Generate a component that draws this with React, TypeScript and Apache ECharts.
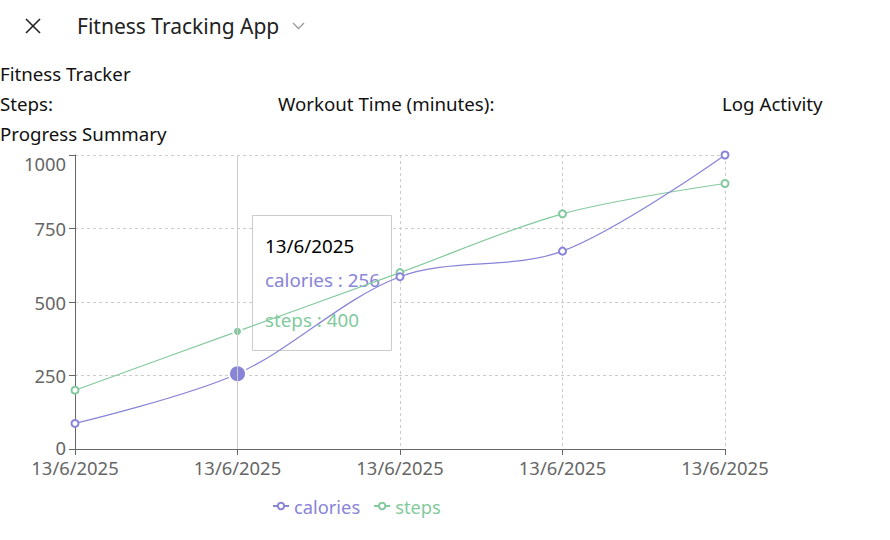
import React, { useEffect, useRef } from "react";
import * as echarts from "echarts";

const categories = ["13/6/2025", "13/6/2025", "13/6/2025", "13/6/2025", "13/6/2025"];
const calories = [87, 256, 586, 673, 1000];
const steps = [200, 400, 600, 800, 903];
const activeIndex = 1;
const yTicks = { min: 0, max: 1000, interval: 250 };

const FONT = '"Noto Sans", "Open Sans", sans-serif';
const C_CAL = "#8884d8";
const C_STEP = "#82ca9d";

export default function App() {
  const ref = useRef<HTMLDivElement>(null);
  useEffect(() => {
    if (!ref.current) return;
    const chart = echarts.init(ref.current, undefined, { renderer: "svg" });
    const mkData = (arr: number[], color: string, big: boolean) =>
      arr.map((v, i) =>
        i === activeIndex
          ? {
              value: v,
              symbol: "circle",
              symbolSize: big ? 17 : 9,
              itemStyle: { color, borderColor: "#fff", borderWidth: 2 },
            }
          : v
      );
    chart.setOption({
      animation: false,
      textStyle: { fontFamily: FONT },
      grid: { left: 75, top: 155, width: 650, height: 294, containLabel: false },
      legend: {
        left: 267,
        top: 492,
        itemWidth: 16,
        itemHeight: 8,
        itemGap: 13,
        textStyle: { fontSize: 18.3, fontFamily: FONT },
        data: [
          { name: "calories", textStyle: { color: C_CAL } },
          { name: "steps", textStyle: { color: C_STEP } },
        ],
      },
      xAxis: {
        type: "category",
        boundaryGap: false,
        data: categories,
        axisLine: { lineStyle: { color: "#666" } },
        axisTick: { length: 6, lineStyle: { color: "#666" } },
        axisLabel: { color: "#666", fontSize: 18.4, margin: 10, lineHeight: 17, fontFamily: FONT },
        splitLine: { show: true, lineStyle: { color: "#ccc", type: [3, 3] } },
      },
      yAxis: {
        type: "value",
        min: yTicks.min,
        max: yTicks.max,
        interval: yTicks.interval,
        axisLine: { show: true, lineStyle: { color: "#666" } },
        axisTick: { show: true, length: 6, lineStyle: { color: "#666" } },
        axisLabel: {
          color: "#666",
          fontSize: 18.4,
          lineHeight: 16,
          margin: 9,
          fontFamily: FONT,
          formatter: (v: number) => (v === yTicks.min ? `{lo|${v}}` : String(v)),
          rich: {
            lo: { fontSize: 18.4, color: "#666", fontFamily: FONT, padding: [0, 0, 3, 0] },
          },
          verticalAlignMaxLabel: "top",
        },
        splitLine: { show: true, lineStyle: { color: "#ccc", type: [3, 3] } },
      },
      series: [
        {
          name: "calories",
          type: "line",
          data: mkData(calories, C_CAL, true),
          smooth: 0.33,
          symbol: "emptyCircle",
          symbolSize: 7,
          showAllSymbol: true,
          lineStyle: { color: C_CAL, width: 1.2 },
          itemStyle: { color: C_CAL, borderWidth: 1.2 },
          emphasis: { disabled: true },
          z: 3,
          markLine: {
            silent: true,
            symbol: ["none", "none"],
            label: { show: false },
            lineStyle: { color: "#ccc", type: "solid", width: 1 },
            data: [{ xAxis: activeIndex }],
          },
        },
        {
          name: "steps",
          type: "line",
          data: mkData(steps, C_STEP, false),
          smooth: 0.33,
          symbol: "emptyCircle",
          symbolSize: 7,
          showAllSymbol: true,
          lineStyle: { color: C_STEP, width: 1.2 },
          itemStyle: { color: C_STEP, borderWidth: 1.2 },
          emphasis: { disabled: true },
          z: 2,
        },
      ],
    });
    const px = chart.convertToPixel({ xAxisIndex: 0 }, activeIndex) as number;
    const bx = Math.round(px) + 14;
    const by = 215;
    const tipFont = `18.8px ${FONT}`;
    chart.setOption({
      graphic: [
        {
          type: "group",
          x: bx,
          y: by,
          z: 100,
          children: [
            {
              type: "rect",
              shape: { x: 0.5, y: 0.5, width: 139, height: 135 },
              style: { fill: "rgba(255,255,255,0.95)", stroke: "#ccc", lineWidth: 1 },
            },
            {
              type: "text",
              x: 13,
              y: 31,
              style: { text: categories[activeIndex], fill: "#000", font: tipFont, verticalAlign: "middle" },
            },
            {
              type: "text",
              x: 13,
              y: 65,
              style: { text: `calories : ${calories[activeIndex]}`, fill: C_CAL, font: tipFont, verticalAlign: "middle" },
            },
            {
              type: "text",
              x: 13,
              y: 105,
              style: { text: `steps : ${steps[activeIndex]}`, fill: C_STEP, font: tipFont, verticalAlign: "middle" },
            },
          ],
        },
      ],
    });
    return () => chart.dispose();
  }, []);

  const txt: React.CSSProperties = {
    position: "absolute",
    fontFamily: FONT,
    fontSize: 18.7,
    color: "#111",
    whiteSpace: "nowrap",
    lineHeight: "24px",
  };

  return (
    <div style={{ position: "fixed", left: 0, top: 0, width: 890, height: 540, background: "#fff", overflow: "hidden" }}>
      <div ref={ref} style={{ position: "absolute", left: 0, top: 0, width: 890, height: 540 }} />
      <svg style={{ position: "absolute", left: 0, top: 0 }} width={320} height={50}>
        <line x1={26} y1={19} x2={40} y2={33} stroke="#222" strokeWidth={1.6} />
        <line x1={40} y1={19} x2={26} y2={33} stroke="#222" strokeWidth={1.6} />
        <polyline points="293,23 298.5,28.5 304,23" fill="none" stroke="#999" strokeWidth={1.3} />
      </svg>
      <div style={{ ...txt, left: 77, top: 11, fontSize: 21, lineHeight: "30px", color: "#222" }}>Fitness Tracking App</div>
      <div style={{ ...txt, left: 0, top: 62 }}>Fitness Tracker</div>
      <div style={{ ...txt, left: 0, top: 92 }}>Steps:</div>
      <div style={{ ...txt, left: 278, top: 92 }}>Workout Time (minutes):</div>
      <div style={{ ...txt, left: 722, top: 92 }}>Log Activity</div>
      <div style={{ ...txt, left: 0, top: 122 }}>Progress Summary</div>
    </div>
  );
}
